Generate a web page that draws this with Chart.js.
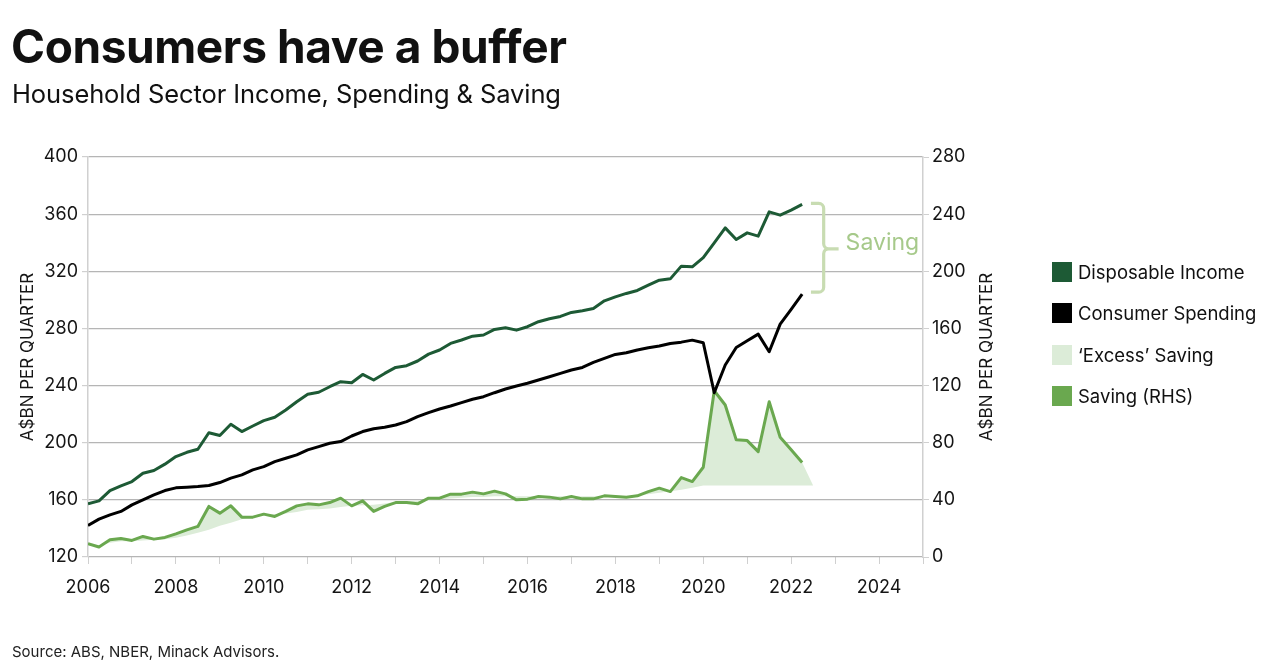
<!DOCTYPE html>
<html>
<head>
<meta charset="utf-8">
<title>Consumers have a buffer</title>
<script src="https://cdn.jsdelivr.net/npm/chart.js@4.4.1/dist/chart.umd.min.js"></script>
<style>
    body {
        margin: 0;
        width: 1280px;
        height: 669px;
        overflow: hidden;
        background: #fff;
        font-family: Inter, "Noto Sans", sans-serif;
        color: #111;
        position: relative;
    }
    #chart {
        position: absolute;
        left: 0;
        top: 0;
    }
    .title {
        position: absolute;
        left: 11px;
        top: 18px;
        font-size: 46px;
        font-weight: 700;
        letter-spacing: -0.4px;
        margin: 0;
    }
    .subtitle {
        position: absolute;
        left: 12px;
        top: 78px;
        font-size: 25.5px;
        font-weight: 400;
        letter-spacing: -0.1px;
    }
    .source {
        position: absolute;
        left: 12px;
        top: 642px;
        font-size: 15px;
        color: #222;
    }
    .legend {
        position: absolute;
        left: 1052px;
        top: 262px;
    }
    .legend-item {
        display: flex;
        align-items: center;
        height: 20px;
        margin-bottom: 21.3px;
        font-size: 18.5px;
        color: #111;
    }
    .legend-item span.box {
        width: 20px;
        height: 20px;
        margin-right: 6px;
        flex: none;
    }
</style>
</head>
<body>
<canvas id="chart" width="1280" height="669"></canvas>
<h1 class="title">Consumers have a buffer</h1>
<div class="subtitle">Household Sector Income, Spending &amp; Saving</div>
<div class="legend" id="legend"></div>
<div class="source">Source: ABS, NBER, Minack Advisors.</div>

<script>
// Quarterly data, 2006 Q1 to 2022 Q2 (A$bn per quarter)
const startYear = 2006;

const disposableIncome = [
    157.2, 159.3, 166.5, 169.8, 172.8, 178.6, 180.5, 185, 190.3, 193.3,
    195.4, 207, 205, 212.9, 207.8, 211.7, 215.5, 217.8, 222.9, 228.7,
    233.9, 235.3, 239.2, 242.7, 242, 247.8, 243.9, 248.5, 252.7, 253.9,
    257.2, 262, 264.9, 269.5, 271.9, 274.6, 275.4, 279.3, 280.5, 278.8,
    281.2, 284.7, 286.8, 288.4, 291.2, 292.4, 294, 299.3, 302.1, 304.5,
    306.6, 310.3, 313.8, 314.7, 323.6, 323.1, 329.6, 339.9, 350.4, 342.2,
    346.9, 344.6, 361.6, 359.3, 362.8, 366.8
];

const consumerSpending = [
    142.1, 146.5, 149.5, 151.9, 156.5, 160, 163.5, 166.5, 168.4, 168.9,
    169.3, 170, 172.1, 175.2, 177.5, 181, 183.3, 186.8, 189.1, 191.5,
    195, 197.3, 199.6, 200.8, 204.7, 207.8, 209.8, 210.8, 212.4, 214.8,
    218.3, 221.1, 223.6, 225.7, 228.1, 230.4, 232.2, 235, 237.6, 239.7,
    241.6, 243.9, 246.2, 248.5, 250.9, 252.7, 256.2, 259, 261.8, 263,
    264.9, 266.5, 267.7, 269.5, 270.4, 271.8, 270, 235, 254.4, 266.7,
    271.4, 276, 263.7, 283, 293.3, 304
];

// Saving, right-hand axis
const saving = [
    9.3, 7, 12, 13, 11.6, 14.4, 12.5, 13.7, 16.2, 19,
    21.4, 35.4, 30.7, 35.8, 27.9, 27.9, 30, 28.4, 31.9, 35.8,
    37.2, 36.5, 38.1, 41.2, 35.8, 39.3, 31.9, 35.4, 38.1, 38.1,
    37.2, 41.2, 41.2, 44, 44, 45.4, 44.2, 46.1, 44.2, 40,
    40.5, 42.3, 41.9, 40.7, 42.3, 40.7, 40.7, 42.8, 42.3, 41.9,
    42.8, 45.8, 48.2, 45.8, 55.6, 52.8, 62.8, 116.4, 106.4, 82,
    81.5, 73.8, 108.7, 83.8, 75, 66.1
];

// Saving trend (lower edge of 'excess' area), runs one quarter longer
const savingTrend = [
    8, 8, 10, 11, 11, 11.5, 12, 12.5, 13.5, 15,
    17, 19, 21.8, 24, 26.5, 28.4, 29.5, 30, 30.5, 31.5,
    33, 33.5, 34, 35, 35.8, 36.2, 36.5, 37.5, 38.5, 39,
    39.5, 40, 40.5, 41, 41.5, 42, 42, 42.5, 42.5, 42.5,
    42.5, 42.5, 42.5, 42.5, 42.5, 42.5, 42.5, 42.5, 42.5, 42.7,
    43, 44, 45, 46, 47, 48.5, 50, 50, 50, 50,
    50, 50, 50, 50, 50, 50, 50
];
const excessEnd = 50;

const xTickLabels = [2006, 2008, 2010, 2012, 2014, 2016, 2018, 2020, 2022, 2024];
const leftTicks = [120, 160, 200, 240, 280, 320, 360, 400];
const rightTicks = [0, 40, 80, 120, 160, 200, 240, 280];
const axisTitle = 'A$BN PER QUARTER';

const colors = {
    income: '#1d5a35',
    spending: '#000000',
    excess: '#dcecd8',
    saving: '#6aa84f',
    bracket: '#c8dcb2',
    bracketText: '#a6c98a',
    grid: '#b5b5b5',
    axis: '#d0d0d0',
    text: '#151515'
};

const fontFamily = 'Inter, "Noto Sans", sans-serif';

document.addEventListener('DOMContentLoaded', function() {
    buildLegend();
    initChart();
});

function toPoints(values) {
    return values.map((v, i) => ({ x: startYear + i / 4, y: v }));
}

function buildLegend() {
    const items = [
        ['Disposable Income', colors.income],
        ['Consumer Spending', colors.spending],
        ['\u2018Excess\u2019 Saving', colors.excess],
        ['Saving (RHS)', colors.saving]
    ];
    const legend = document.getElementById('legend');
    items.forEach(item => {
        const row = document.createElement('div');
        row.className = 'legend-item';
        row.innerHTML = `<span class="box" style="background:${item[1]}"></span>${item[0]}`;
        legend.appendChild(row);
    });
}

// Right axis title, reading bottom to top like the left one
const rightAxisTitle = {
    id: 'rightAxisTitle',
    afterDraw(chart) {
        const { ctx, chartArea } = chart;
        const x = chart.scales.y2.left + 64;
        const y = (chartArea.top + chartArea.bottom) / 2;
        ctx.save();
        ctx.translate(x, y);
        ctx.rotate(-Math.PI / 2);
        ctx.fillStyle = colors.text;
        ctx.font = '17px ' + fontFamily;
        ctx.textAlign = 'center';
        ctx.textBaseline = 'middle';
        ctx.fillText(axisTitle, 0, 0);
        ctx.restore();
    }
};

// Bracket + "Saving" label between the last income and spending points
const savingBracket = {
    id: 'savingBracket',
    afterDatasetsDraw(chart) {
        const { ctx, scales } = chart;
        const top = scales.y.getPixelForValue(disposableIncome[disposableIncome.length - 1]) - 1;
        const bottom = scales.y.getPixelForValue(consumerSpending[consumerSpending.length - 1]) - 2;
        const xl = scales.x.getPixelForValue(2022.45);
        const xv = scales.x.getPixelForValue(2022.74);
        const xn = scales.x.getPixelForValue(2023.08);
        const mid = (top + bottom) / 2 + 1;
        const r = 5;

        ctx.save();
        ctx.strokeStyle = colors.bracket;
        ctx.lineWidth = 3.2;
        ctx.lineJoin = 'round';
        ctx.beginPath();
        ctx.moveTo(xl, top);
        ctx.arcTo(xv, top, xv, top + r, r);
        ctx.lineTo(xv, mid - r);
        ctx.arcTo(xv, mid, xv + r, mid, r);
        ctx.lineTo(xn, mid);
        ctx.moveTo(xv + r, mid);
        ctx.arcTo(xv, mid, xv, mid + r, r);
        ctx.lineTo(xv, bottom - r);
        ctx.arcTo(xv, bottom, xv - r, bottom, r);
        ctx.lineTo(xl, bottom);
        ctx.stroke();

        ctx.fillStyle = colors.bracketText;
        ctx.font = '23px ' + fontFamily;
        ctx.textAlign = 'left';
        ctx.textBaseline = 'middle';
        ctx.fillText('Saving', xn + 7, mid - 6);
        ctx.restore();
    }
};

function initChart() {
    const el = document.getElementById('chart');
    const tickFont = { family: fontFamily, size: 18 };
    const titleFont = { family: fontFamily, size: 17 };

    new Chart(el, {
        type: 'line',
        data: {
            datasets: [
                {
                    label: 'trend',
                    data: toPoints(savingTrend),
                    yAxisID: 'y2',
                    borderWidth: 0,
                    pointRadius: 0,
                    fill: false,
                    order: 5
                },
                {
                    label: '\u2018Excess\u2019 Saving',
                    data: toPoints(saving.concat([excessEnd])),
                    yAxisID: 'y2',
                    borderWidth: 0,
                    pointRadius: 0,
                    backgroundColor: colors.excess,
                    fill: 0,
                    order: 4
                },
                {
                    label: 'Saving (RHS)',
                    data: toPoints(saving),
                    yAxisID: 'y2',
                    borderColor: colors.saving,
                    borderWidth: 3,
                    pointRadius: 0,
                    fill: false,
                    order: 3
                },
                {
                    label: 'Consumer Spending',
                    data: toPoints(consumerSpending),
                    yAxisID: 'y',
                    borderColor: colors.spending,
                    borderWidth: 3,
                    pointRadius: 0,
                    fill: false,
                    order: 2
                },
                {
                    label: 'Disposable Income',
                    data: toPoints(disposableIncome),
                    yAxisID: 'y',
                    borderColor: colors.income,
                    borderWidth: 3,
                    pointRadius: 0,
                    fill: false,
                    order: 1
                }
            ]
        },
        options: {
            responsive: false,
            devicePixelRatio: 1,
            animation: false,
            layout: {
                padding: { left: 0, top: 157, right: 257, bottom: 0 }
            },
            plugins: {
                legend: { display: false },
                tooltip: { enabled: false }
            },
            elements: {
                line: { tension: 0, borderJoinStyle: 'round' }
            },
            scales: {
                x: {
                    type: 'linear',
                    min: 2006,
                    max: 2025,
                    afterFit: function(scale) { scale.height = 112; },
                    afterBuildTicks: function(scale) {
                        const ticks = [];
                        for (let y = 2006; y <= 2025; y++) ticks.push({ value: y });
                        scale.ticks = ticks;
                    },
                    ticks: {
                        autoSkip: false,
                        maxRotation: 0,
                        padding: 13,
                        color: colors.text,
                        font: tickFont,
                        callback: function(value) {
                            return xTickLabels.includes(value) ? String(value) : '';
                        }
                    },
                    grid: {
                        drawOnChartArea: false,
                        drawTicks: true,
                        tickLength: 7,
                        color: colors.axis
                    },
                    border: { display: false }
                },
                y: {
                    position: 'left',
                    min: 120,
                    max: 400,
                    afterFit: function(scale) { scale.width = 88; },
                    afterBuildTicks: function(scale) {
                        scale.ticks = leftTicks.map(v => ({ value: v }));
                    },
                    ticks: {
                        padding: 4,
                        color: colors.text,
                        font: tickFont
                    },
                    grid: {
                        color: colors.grid,
                        lineWidth: 1.2,
                        tickLength: 6,
                        tickColor: colors.axis
                    },
                    border: { color: colors.axis, width: 1.5 },
                    title: {
                        display: true,
                        text: axisTitle,
                        color: colors.text,
                        font: titleFont,
                        padding: { top: 18, bottom: 0 }
                    }
                },
                y2: {
                    position: 'right',
                    min: 0,
                    max: 280,
                    afterFit: function(scale) { scale.width = 100; },
                    afterBuildTicks: function(scale) {
                        scale.ticks = rightTicks.map(v => ({ value: v }));
                    },
                    ticks: {
                        padding: 3,
                        color: colors.text,
                        font: tickFont
                    },
                    grid: {
                        drawOnChartArea: false,
                        tickLength: 6,
                        color: colors.axis
                    },
                    border: { color: colors.axis, width: 1.5 }
                }
            }
        },
        plugins: [savingBracket, rightAxisTitle]
    });
}
</script>
</body>
</html>
